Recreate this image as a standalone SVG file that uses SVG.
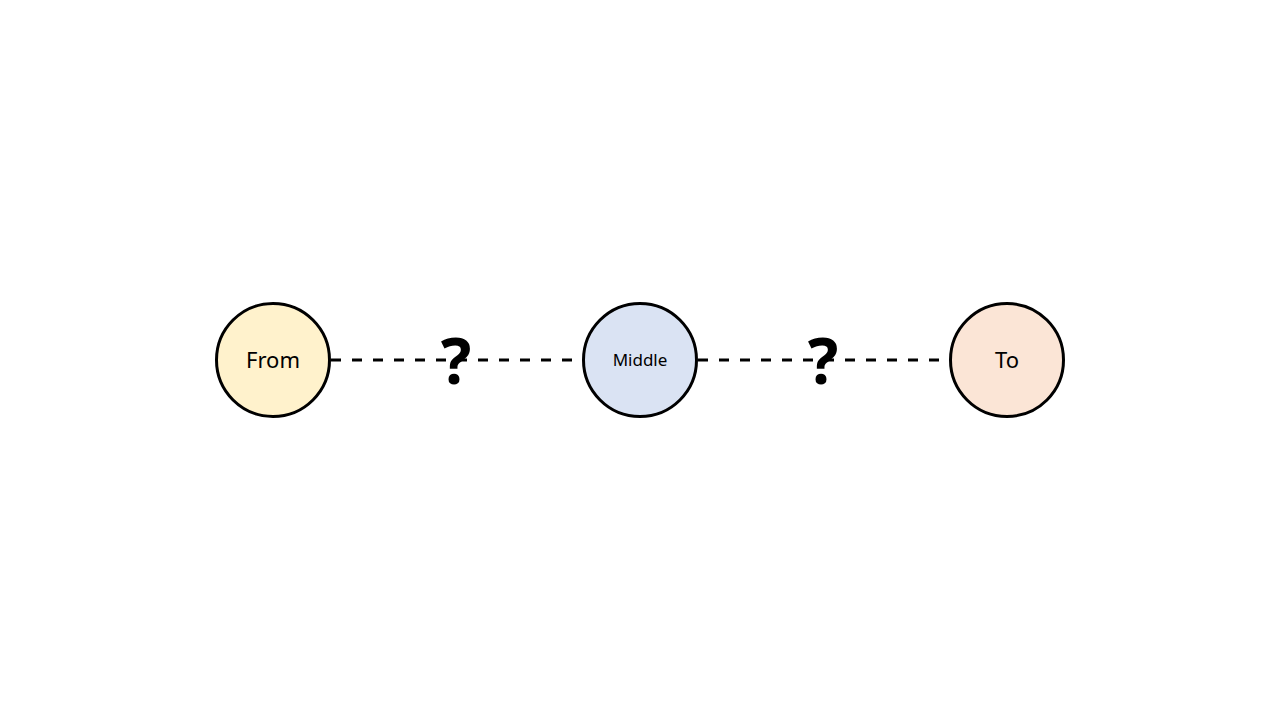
<svg xmlns="http://www.w3.org/2000/svg" width="1280" height="720" viewBox="0 0 1280 720">
<style>
.node{stroke:#000;stroke-width:3}
.lbl{font-family:"Noto Sans","Open Sans",sans-serif;fill:#000;text-anchor:middle}
.conn{stroke:#000;stroke-width:3;stroke-dasharray:10 11;fill:none}
.q{font-family:"Noto Sans","Open Sans",sans-serif;font-size:64px;font-weight:bold;fill:#000;text-anchor:middle}
</style>
<rect width="1280" height="720" fill="#fff"/>
<g id="connectors">
<line class="conn" x1="331" y1="360" x2="583" y2="360"/>
<line class="conn" x1="698" y1="360" x2="950" y2="360"/>
<text class="q" x="456" y="384">?</text>
<text class="q" x="823" y="384">?</text>
</g>
<g id="from">
<circle class="node" cx="273" cy="360" r="56.5" fill="#fff2cc"/>
<text class="lbl" x="273" y="368" font-size="22">From</text>
</g>
<g id="middle">
<circle class="node" cx="640" cy="360" r="56.5" fill="#dae3f3"/>
<text class="lbl" x="640" y="366" font-size="17">Middle</text>
</g>
<g id="to">
<circle class="node" cx="1007" cy="360" r="56.5" fill="#fbe5d6"/>
<text class="lbl" x="1007" y="368" font-size="22">To</text>
</g>
</svg>
